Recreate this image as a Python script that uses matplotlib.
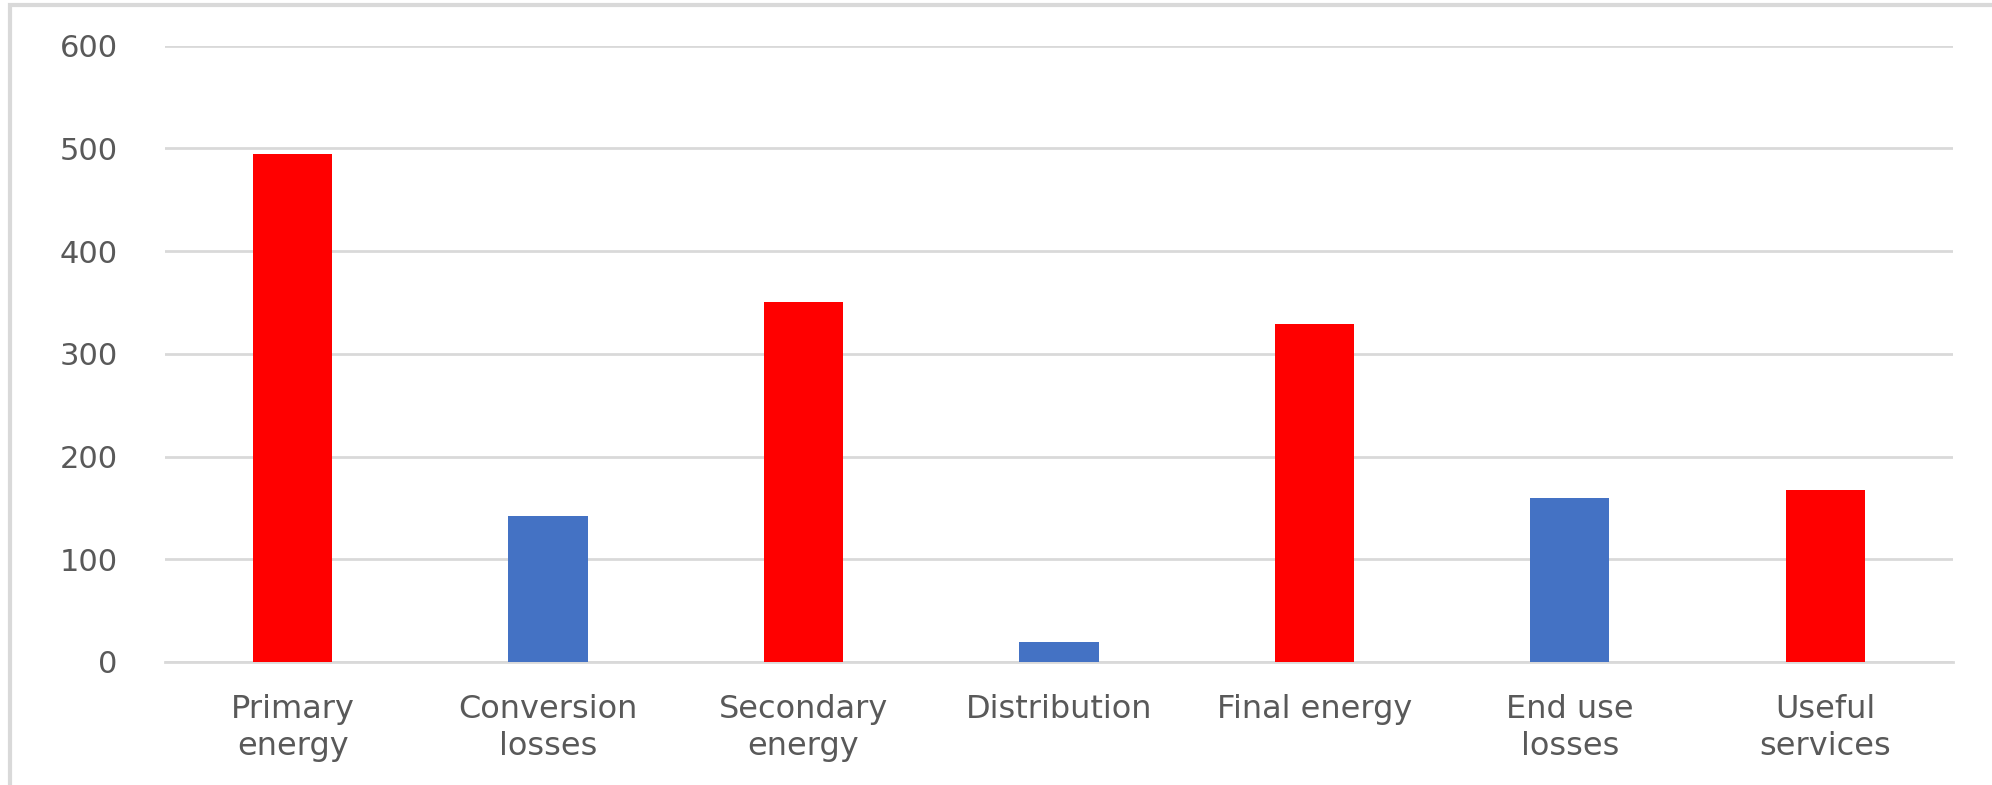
import matplotlib
matplotlib.use("Agg")
import matplotlib.pyplot as plt
from matplotlib.patches import Rectangle

# values
categories = ["Primary\nenergy", "Conversion\nlosses", "Secondary\nenergy",
              "Distribution", "Final energy", "End use\nlosses", "Useful\nservices"]
values = [495, 142, 350, 19, 329, 160, 167]
kinds = ["energy", "loss", "energy", "loss", "energy", "loss", "energy"]
yticks = [0, 100, 200, 300, 400, 500, 600]

C_ENERGY = "#FF0000"
C_LOSS = "#4472C4"
C_GRID = "#D9D9D9"
C_TEXT = "#595959"

plt.rcParams.update({
    "font.family": ["DejaVu Sans"],
})

fig = plt.figure(figsize=(19.92, 7.85), dpi=100)
ax = fig.add_axes([0.0828, 0.1567, 0.8976, 0.7851])

colors = [C_ENERGY if k == "energy" else C_LOSS for k in kinds]
x = range(len(categories))
ax.bar(x, values, width=0.31, color=colors, zorder=3)

ax.set_xlim(-0.5, len(categories) - 0.5)
ax.set_ylim(0, 600)
ax.set_yticks(yticks)
ax.set_yticklabels([str(t) for t in yticks])
ax.set_xticks(list(x))
ax.set_xticklabels(categories, linespacing=1.25)

ax.yaxis.grid(True, color=C_GRID, lw=2.0, zorder=0)
ax.set_axisbelow(True)
for s in ["top", "right", "left"]:
    ax.spines[s].set_visible(False)
ax.spines["bottom"].set_color(C_GRID)
ax.spines["bottom"].set_linewidth(2.0)

ax.tick_params(axis="y", length=0, pad=34, labelsize=22, labelcolor=C_TEXT)
ax.tick_params(axis="x", length=0, pad=23, labelsize=23, labelcolor=C_TEXT)

# chart frame (left and top edges show, the rest is cropped off)
frame = Rectangle((10 / 1992, -0.1), 1.2, 1.1 - 5 / 785,
                  transform=fig.transFigure, fill=False,
                  edgecolor=C_GRID, lw=3, zorder=0)
fig.patches.append(frame)

fig.savefig("out.png", dpi=100)
